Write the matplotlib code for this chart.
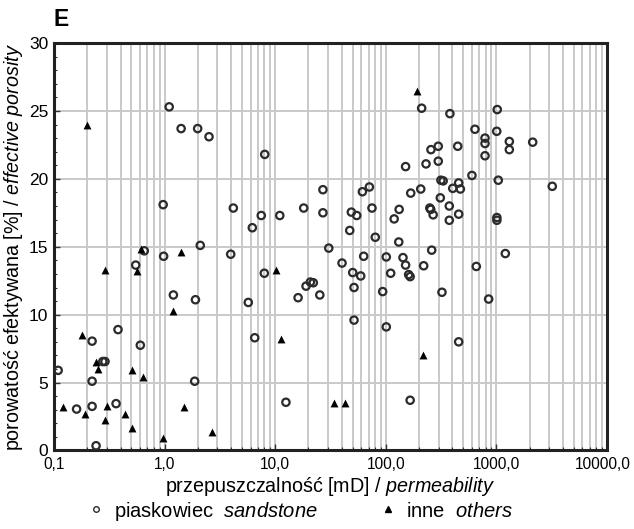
import numpy as np
import matplotlib
matplotlib.use("Agg")
import matplotlib.pyplot as plt
from matplotlib.ticker import FixedLocator, MultipleLocator, NullFormatter
from matplotlib.lines import Line2D
from matplotlib.transforms import ScaledTranslation

plt.rcParams['font.family'] = ['Liberation Sans', 'DejaVu Sans']
plt.rcParams['mathtext.fontset'] = 'custom'
plt.rcParams['mathtext.rm'] = 'Liberation Sans'
plt.rcParams['mathtext.it'] = 'Liberation Sans:italic'

# piaskowiec / sandstone: przepuszczalność [mD], porowatość [%]
sand_perm = [1.1, 1.41, 1.99, 2.52, 0.97, 4.18, 2.1, 8.04, 6.21, 7.48,
             11.0, 18.1, 27.0, 27.0, 30.5, 47.2, 48.8, 54.6, 61.4, 71.0,
             75.0, 80.3, 119, 132, 131, 151, 168, 211, 380, 1018,
             640, 1007, 789, 789, 1309, 1309, 2129, 256, 298, 447,
             231, 298, 789, 601, 315, 330, 1040, 207, 456, 403,
             472, 3200, 311, 250, 255, 268, 375, 456, 375, 1010,
             1010, 260, 0.655, 0.98, 3.96, 0.548, 1.2, 1.9, 0.379, 0.221,
             0.603, 0.109, 0.276, 0.289, 0.221, 1.87, 0.16, 0.221, 0.364, 0.24,
             7.97, 5.71, 6.53, 12.5, 16.1, 19.0, 20.8, 22.1, 25.3, 40.2,
             50.2, 51.6, 59.3, 63.1, 51.6, 101, 93.7, 101, 110.7, 143,
             151, 161, 166, 166, 220, 322, 658, 1204, 851, 456]
sand_por = [25.3, 23.7, 23.7, 23.1, 18.1, 17.85, 15.1, 21.8, 16.4, 17.3,
            17.3, 17.85, 19.2, 17.5, 14.9, 16.2, 17.55, 17.3, 19.05, 19.4,
            17.85, 15.7, 17.05, 17.75, 15.35, 20.9, 18.95, 25.2, 24.8, 25.1,
            23.65, 23.5, 23.0, 22.6, 22.75, 22.15, 22.7, 22.15, 22.4, 22.4,
            21.1, 21.3, 21.7, 20.25, 19.9, 19.85, 19.9, 19.25, 19.7, 19.3,
            19.25, 19.45, 18.6, 17.85, 17.75, 17.35, 18.0, 17.4, 16.95, 17.15,
            16.95, 14.75, 14.7, 14.3, 14.45, 13.65, 11.45, 11.1, 8.9, 8.05,
            7.75, 5.9, 6.55, 6.55, 5.1, 5.1, 3.05, 3.25, 3.45, 0.35,
            13.05, 10.9, 8.3, 3.55, 11.25, 12.1, 12.4, 12.35, 11.45, 13.8,
            13.1, 12.0, 12.85, 14.3, 9.6, 14.25, 11.7, 9.1, 13.05, 14.2,
            13.65, 12.95, 12.8, 3.7, 13.6, 11.65, 13.55, 14.5, 11.15, 8.0]

# inne / others
other_perm = [0.2, 0.612, 1.41, 0.289, 0.56, 1.2, 0.179, 0.238, 0.251, 0.507,
              0.642, 0.12, 0.19, 0.30, 0.289, 0.439, 0.507, 1.5, 2.7, 0.973,
              10.2, 11.2, 34.2, 43.0, 190, 216]
other_por = [24.0, 14.85, 14.6, 13.3, 13.2, 10.25, 8.5, 6.5, 6.0, 5.9,
             5.4, 3.2, 2.7, 3.25, 2.25, 2.7, 1.65, 3.2, 1.35, 0.95,
             13.3, 8.2, 3.5, 3.5, 26.45, 7.05]

x_ticks = [0.1, 1, 10, 100, 1000, 10000]
x_ticklabels = ['0,1', '1,0', '10,0', '100,0', '1000,0', '10000,0']
y_ticks = [0, 5, 10, 15, 20, 25, 30]

fig = plt.figure(figsize=(6.34, 5.29), dpi=100)
ax = fig.add_axes([0.0852, 0.1484, 0.8722, 0.7703])

ax.set_xscale('log')
ax.set_xlim(0.1, 10000)
ax.set_ylim(0, 30)

grid_col = '#c9c9c9'
ax.grid(True, which='major', axis='both', color=grid_col, lw=1.4)
ax.grid(True, which='minor', axis='x', color=grid_col, lw=1.4)
ax.set_axisbelow(True)

ax.scatter(sand_perm, sand_por, s=28, marker='o', facecolors='none',
           edgecolors='#2b2b2b', linewidths=1.6, zorder=3)
ax.scatter(other_perm, other_por, s=32, marker='^', color='black',
           linewidths=0, zorder=4)

ax.xaxis.set_major_locator(FixedLocator(x_ticks))
ax.set_xticklabels(x_ticklabels)
ax.xaxis.set_minor_formatter(NullFormatter())
ax.set_yticks(y_ticks)
ax.yaxis.set_minor_locator(MultipleLocator(1))

ax.tick_params(which='both', direction='in', color='#333333')
ax.tick_params(axis='x', labelsize=11.2, pad=5)
ax.tick_params(axis='y', labelsize=12.5, pad=4)
ax.tick_params(which='major', length=4, width=1)
ax.tick_params(which='minor', length=2.5, width=0.8)

# keep the last x label inside the figure edge
last = ax.get_xticklabels()[-1]
last.set_transform(last.get_transform() + ScaledTranslation(-3 / 72, 0, fig.dpi_scale_trans))

for side in ax.spines.values():
    side.set_linewidth(2.2)
    side.set_color('#222222')

ax.set_xlabel(r'przepuszczalność [mD] / $\mathit{permeability}$',
              fontsize=14.2, labelpad=2)
ax.set_ylabel(r'porowatość efektywana [%] / $\mathit{effective\ porosity}$',
              fontsize=14.2, labelpad=3)

fig.text(0.085, 0.941, 'E', fontsize=16.5, fontweight='bold',
         ha='left', va='bottom')

handles = [
    Line2D([], [], ls='none', marker='o', ms=4, mfc='none', mec='#2b2b2b', mew=1.0),
    Line2D([], [], ls='none', marker='^', ms=4.5, color='black'),
]
labels = [r'piaskowiec  $\mathit{sandstone}$', r'inne  $\mathit{others}$']
fig.legend(handles, labels, loc='center', bbox_to_anchor=(0.474, 0.034),
           ncol=2, frameon=False, fontsize=14.5, handlelength=0.8,
           handletextpad=0.5, columnspacing=3.1, borderaxespad=0,
           borderpad=0)

fig.savefig('out.png', dpi=100)
